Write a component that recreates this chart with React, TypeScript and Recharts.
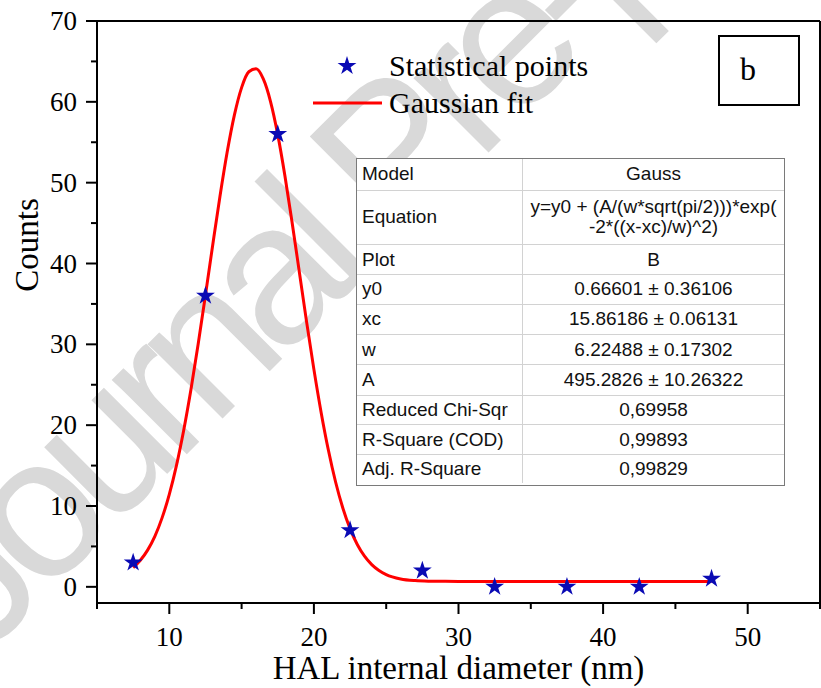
import React from 'react';
import {
  ComposedChart,
  Line,
  Scatter,
  XAxis,
  YAxis,
  ReferenceLine,
  Legend,
  Symbols,
} from 'recharts';

// ---- data ----
const pointX = [7.5, 12.5, 17.5, 22.5, 27.5, 32.5, 37.5, 42.5, 47.5];
const pointCounts = [3, 36, 56, 7, 2, 0, 0, 0, 1];

const fitX = [
  7.5, 8, 8.5, 9, 9.5, 10, 10.5, 11, 11.5, 12, 12.5, 13, 13.5, 14, 14.5, 15, 15.5, 16,
  16.5, 17, 17.5, 18, 18.5, 19, 19.5, 20, 20.5, 21, 21.5, 22, 22.5, 23, 23.5, 24, 24.5,
  25, 26, 27, 28, 29, 30, 35, 40, 47.5,
];
const fitY = [
  2.39, 3.28, 4.54, 6.25, 8.53, 11.44, 15.06, 19.41, 24.45, 30.07, 36.09, 42.26, 48.26,
  53.75, 58.35, 61.76, 63.72, 64.08, 62.83, 60.04, 55.94, 50.8, 44.99, 38.86, 32.72, 26.9,
  21.58, 16.92, 12.97, 9.75, 7.2, 5.24, 3.79, 2.75, 2.02, 1.52, 0.98, 0.77, 0.7, 0.68, 0.67,
  0.67, 0.67, 0.67,
];

const xTickValues = [5, 10, 15, 20, 25, 30, 35, 40, 45, 50, 55];
const xTickLabels = [10, 20, 30, 40, 50];
const yTickValues = [0, 5, 10, 15, 20, 25, 30, 35, 40, 45, 50, 55, 60, 65, 70];
const yTickLabels = [0, 10, 20, 30, 40, 50, 60, 70];

const seriesNames = ['Statistical points', 'Gaussian fit'];
const xTitle = 'HAL internal diameter (nm)';
const yTitle = 'Counts';
const panelLabel = 'b';

const tableLabels = [
  'Model',
  'Equation',
  'Plot',
  'y0',
  'xc',
  'w',
  'A',
  'Reduced Chi-Sqr',
  'R-Square (COD)',
  'Adj. R-Square',
];
const tableValues = [
  ['Gauss'],
  ['y=y0 + (A/(w*sqrt(pi/2)))*exp(', '-2*((x-xc)/w)^2)'],
  ['B'],
  ['0.66601 \u00b1 0.36106'],
  ['15.86186 \u00b1 0.06131'],
  ['6.22488 \u00b1 0.17302'],
  ['495.2826 \u00b1 10.26322'],
  ['0,69958'],
  ['0,99893'],
  ['0,99829'],
];
const tableRowHeights = [32, 55, 30, 30, 31, 30, 31, 30, 30, 29];

const watermark = 'Journal Pre-proof';

// ---- styles ----
const SERIF = '"Liberation Serif", "Times New Roman", serif';
const SANS = '"Liberation Sans", Arial, sans-serif';
const STAR_COLOR = '#0a0ab4';
const LINE_COLOR = '#ff0000';

const pointData = pointX.map((x, i) => ({ x, y: pointCounts[i] }));
const fitData = fitX.map((x, i) => ({ x, y: fitY[i] }));

const XTick = (props: any) => {
  const { x, y, payload } = props;
  const v = payload.value;
  const major = xTickLabels.includes(v);
  return (
    <g>
      <line x1={x} x2={x} y1={y} y2={y + (major ? 11 : 6)} stroke="#000" strokeWidth={2} />
      {major && (
        <text x={x} y={y + 43} textAnchor="middle" fontSize={27} fontFamily={SERIF} fill="#000">
          {v}
        </text>
      )}
    </g>
  );
};

const YTick = (props: any) => {
  const { x, y, payload } = props;
  const v = payload.value;
  const major = yTickLabels.includes(v);
  return (
    <g>
      <line x1={x} x2={x - (major ? 11 : 6)} y1={y} y2={y} stroke="#000" strokeWidth={2} />
      {major && (
        <text x={x - 20} y={y + 9} textAnchor="end" fontSize={27} fontFamily={SERIF} fill="#000">
          {v}
        </text>
      )}
    </g>
  );
};

const StarShape = (props: any) => {
  const { cx, cy } = props;
  return <Symbols cx={cx} cy={cy} type="star" size={110} fill={STAR_COLOR} />;
};

const LegendContent = () => (
  <svg width={300} height={100} style={{ overflow: 'visible', display: 'block' }}>
    <Symbols cx={47} cy={26} type="star" size={110} fill={STAR_COLOR} />
    <text x={89} y={36} fontSize={30} fontFamily={SERIF} fill="#000">
      {seriesNames[0]}
    </text>
    <line x1={13} x2={82} y1={63} y2={63} stroke={LINE_COLOR} strokeWidth={3} />
    <text x={89} y={73} fontSize={30} fontFamily={SERIF} fill="#000">
      {seriesNames[1]}
    </text>
  </svg>
);

export default function App() {
  return (
    <div
      style={{
        position: 'absolute',
        left: 0,
        top: 0,
        width: 821,
        height: 688,
        background: '#ffffff',
        overflow: 'hidden',
      }}
    >
      <svg width={821} height={688} style={{ position: 'absolute', left: 0, top: 0 }}>
        <text
          x={-17}
          y={658}
          transform="rotate(-45 -17 658)"
          fontSize={200}
          letterSpacing={-16}
          fontFamily={SANS}
          fill="#d9d9d9"
        >
          {watermark}
        </text>
      </svg>
      <div style={{ position: 'absolute', left: 0, top: 0 }}>
        <ComposedChart width={821} height={688} margin={{ top: 21, right: 1, bottom: 0, left: 17 }}>
          <XAxis
            type="number"
            dataKey="x"
            domain={[5, 55]}
            ticks={xTickValues}
            interval={0}
            allowDataOverflow
            height={85}
            tickSize={0}
            tickMargin={0}
            tickLine={false}
            axisLine={{ stroke: '#000', strokeWidth: 2 }}
            tick={<XTick />}
            label={{
              content: (p: any) => {
                const vb = p.viewBox || { x: 97, width: 723 };
                return (
                  <text
                    x={vb.x + vb.width / 2}
                    y={679}
                    textAnchor="middle"
                    fontSize={33}
                    fontFamily={SERIF}
                    fill="#000"
                  >
                    {xTitle}
                  </text>
                );
              },
            }}
          />
          <YAxis
            type="number"
            dataKey="y"
            domain={[-2, 70]}
            ticks={yTickValues}
            interval={0}
            allowDataOverflow
            width={80}
            tickSize={0}
            tickMargin={0}
            tickLine={false}
            axisLine={{ stroke: '#000', strokeWidth: 2 }}
            tick={<YTick />}
            label={{
              content: () => (
                <text
                  x={38}
                  y={245}
                  transform="rotate(-90 38 245)"
                  textAnchor="middle"
                  fontSize={33}
                  fontFamily={SERIF}
                  fill="#000"
                >
                  {yTitle}
                </text>
              ),
            }}
          />
          <ReferenceLine y={70} stroke="#000" strokeWidth={2} />
          <ReferenceLine x={55} stroke="#000" strokeWidth={2} />
          <Line
            data={fitData}
            dataKey="y"
            name={seriesNames[1]}
            type="monotone"
            stroke={LINE_COLOR}
            strokeWidth={3}
            dot={false}
            activeDot={false}
            isAnimationActive={false}
          />
          <Scatter
            data={pointData}
            dataKey="y"
            name={seriesNames[0]}
            fill={STAR_COLOR}
            shape={<StarShape />}
            isAnimationActive={false}
          />
          <Legend
            layout="vertical"
            align="center"
            verticalAlign="middle"
            wrapperStyle={{ left: 300, top: 40, width: 300, height: 100 }}
            content={<LegendContent />}
          />
        </ComposedChart>
      </div>
      <svg width={82} height={71} style={{ position: 'absolute', left: 718, top: 35 }}>
        <rect x={1} y={1} width={80} height={69} fill="#fff" stroke="#000" strokeWidth={2} />
        <text x={30} y={45} textAnchor="middle" fontSize={32} fontFamily={SERIF} fill="#000">
          {panelLabel}
        </text>
      </svg>
      <div
        style={{
          position: 'absolute',
          left: 356,
          top: 158,
          width: 429,
          height: 328,
          boxSizing: 'border-box',
          border: '1.5px solid #7a7a7a',
          background: '#ffffff',
          fontFamily: SANS,
          fontSize: 19,
          color: '#111',
        }}
      >
        {tableLabels.map((lab, i) => (
          <div
            key={lab}
            style={{
              display: 'flex',
              height: tableRowHeights[i] - (i === 0 ? 1.5 : 0.3),
              boxSizing: 'border-box',
              borderTop: i === 0 ? 'none' : '1.5px solid #d2d2d2',
            }}
          >
            <div
              style={{
                width: 166,
                boxSizing: 'border-box',
                borderRight: '1.5px solid #d2d2d2',
                paddingLeft: 5,
                display: 'flex',
                alignItems: 'center',
                whiteSpace: 'nowrap',
              }}
            >
              {lab}
            </div>
            <div
              style={{
                flex: 1,
                display: 'flex',
                flexDirection: 'column',
                alignItems: 'center',
                justifyContent: 'center',
                lineHeight: '20px',
                whiteSpace: 'nowrap',
              }}
            >
              {tableValues[i].map((t, j) => (
                <div key={j}>{t}</div>
              ))}
            </div>
          </div>
        ))}
      </div>
    </div>
  );
}
